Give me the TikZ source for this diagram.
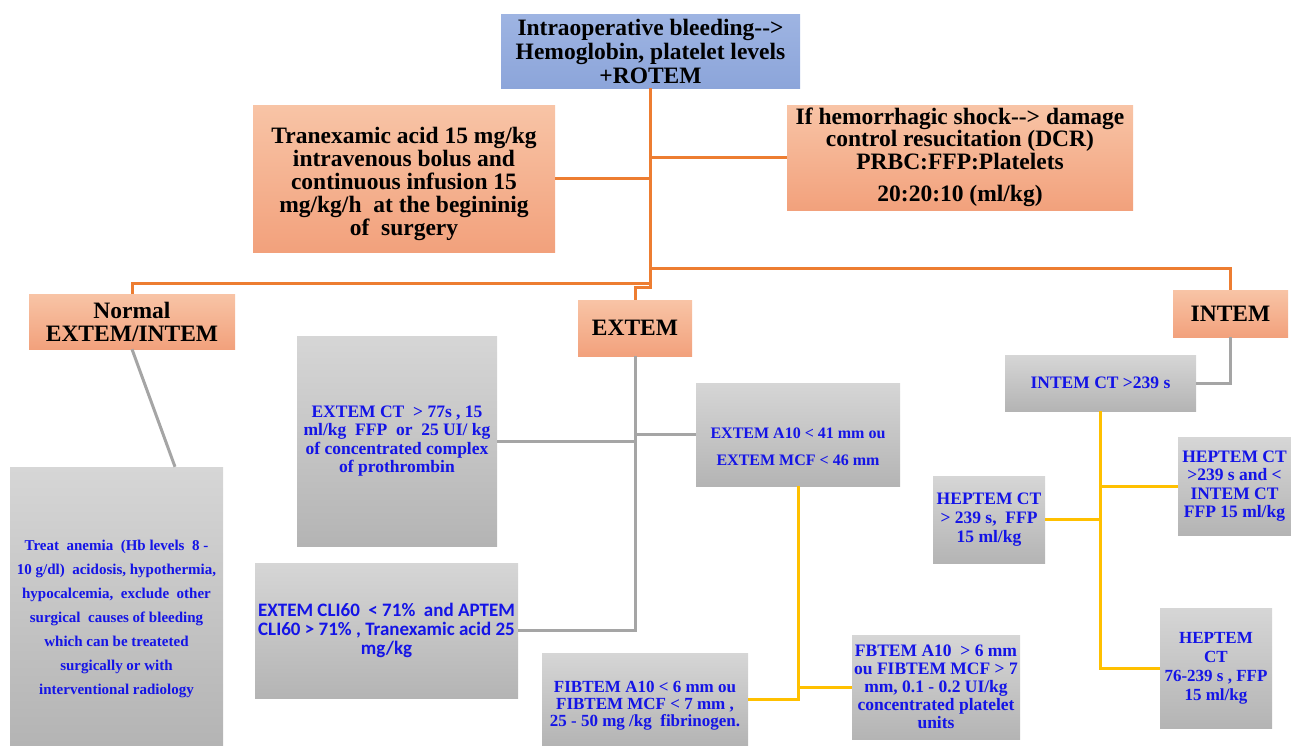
\documentclass[tikz,border=0pt]{standalone}
\usepackage{fontspec}
\setmainfont{Liberation Serif}
\newfontfamily\calfont{Carlito}

\definecolor{lineorange}{HTML}{ED7D31}
\definecolor{linegrey}{HTML}{A5A5A5}
\definecolor{lineyellow}{HTML}{FFC000}
\definecolor{txtblue}{HTML}{1414E6}

\newcommand{\setfs}[2]{\fontsize{#1}{#2}\selectfont}

\tikzset{
  box/.style={inner sep=0pt, align=center, font=\bfseries},
  bluebox/.style={box, top color={rgb,255:red,158;green,180;blue,226}, bottom color={rgb,255:red,140;green,165;blue,218}},
  salmonbox/.style={box, top color={rgb,255:red,248;green,196;blue,166}, bottom color={rgb,255:red,242;green,161;blue,124}},
  greybox/.style={box, text=txtblue, top color={rgb,255:red,214;green,214;blue,214}, bottom color={rgb,255:red,180;green,180;blue,180}},
  oline/.style={draw=lineorange, line width=3pt},
  gline/.style={draw=linegrey, line width=3pt},
  yline/.style={draw=lineyellow, line width=3pt}
}

\begin{document}
\begin{tikzpicture}[x=1pt,y=-1pt,line join=miter]

\useasboundingbox (0,0) rectangle (1291,745);

%orange level
\node[bluebox, minimum width=299, minimum height=74, font=\bfseries\setfs{23.5}{24}] (top) at (650.5,51)
  {Intraoperative bleeding-{}-{}>\\Hemoglobin, platelet levels\\+ROTEM};
\node[salmonbox, minimum width=302, minimum height=147, font=\bfseries\setfs{23.5}{23}] (tranex) at (404,178.5)
  {\mbox{}\\[5pt]Tranexamic acid 15 mg/kg\\intravenous bolus and\\continuous infusion 15\\mg/kg/h\ \ at the begininig\\of\ \ surgery};
\node[salmonbox, minimum width=346, minimum height=105, font=\bfseries\setfs{23.5}{22.5}] (shock) at (960,157.5)
  {If hemorrhagic shock-{}-{}> damage\\control resucitation (DCR)\\PRBC:FFP:Platelets\\[10pt]20:20:10 (ml/kg)};
\node[salmonbox, minimum width=206, minimum height=55, font=\bfseries\setfs{23.5}{23}] (normal) at (132,321.5)
  {Normal\\EXTEM/INTEM};
\node[salmonbox, minimum width=114, minimum height=56, font=\bfseries\setfs{23.5}{23}] (extem) at (635,328) {EXTEM};
\node[salmonbox, minimum width=115, minimum height=47, font=\bfseries\setfs{23.5}{23}] (intem) at (1230.5,313.5) {INTEM};

%grey boxes
\node[greybox, minimum width=213, minimum height=278, font=\bfseries\setfs{15}{24}] (treat) at (116.5,606)
  {\mbox{}\\[12pt]Treat\ \ anemia\ \ (Hb levels\ \ 8 -\\10 g/dl)\ \ acidosis, hypothermia,\\hypocalcemia,\ \ exclude\ \ other\\surgical\ \ causes of bleeding\\which can be treateted\\surgically or with\\interventional radiology};
\node[greybox, minimum width=200, minimum height=210, font=\bfseries\setfs{17.5}{18.5}] (extct) at (397,441)
  {EXTEM CT\ \ > 77s , 15\\ml/kg\ \ FFP\ \ or\ \ 25 UI/ kg\\of concentrated complex\\of prothrombin};
\node[greybox, minimum width=263, minimum height=135, font=\calfont\bfseries\setfs{19}{19}] (cli) at (386.5,630.5)
  {EXTEM CLI60\ \ < 71\%\ \ and APTEM\\CLI60 > 71\% , Tranexamic acid 25\\mg/kg};
\node[greybox, minimum width=204, minimum height=103, font=\bfseries\setfs{16}{27}] (a10) at (798,434.5)
  {\mbox{}\\[9pt]EXTEM A10 < 41 mm ou\\EXTEM MCF < 46 mm};
\node[greybox, minimum width=206, minimum height=92, font=\bfseries\setfs{17}{17}] (fibtem) at (645,699)
  {\mbox{}\\[7pt]FIBTEM A10 < 6 mm ou\\FIBTEM MCF < 7 mm ,\\25 - 50 mg /kg\ \ fibrinogen.};
\node[greybox, minimum width=168, minimum height=104, font=\bfseries\setfs{17.5}{18}] (fbtem) at (936,687)
  {FBTEM A10\ \ > 6 mm\\ou FIBTEM MCF > 7\\mm, 0.1 - 0.2 UI/kg\\concentrated platelet\\units};
\node[greybox, minimum width=191, minimum height=56, font=\bfseries\setfs{17.5}{18}] (intct) at (1100.5,383) {INTEM CT >239 s};
\node[greybox, minimum width=112, minimum height=87, font=\bfseries\setfs{17.5}{19}] (hepa) at (989,519.5)
  {HEPTEM CT\\> 239 s,\ \ FFP\\15 ml/kg};
\node[greybox, minimum width=113, minimum height=98, font=\bfseries\setfs{17.5}{18.3}] (hepb) at (1234.5,486)
  {HEPTEM CT\\>239 s and <\\INTEM CT\\FFP 15 ml/kg};
\node[greybox, minimum width=112, minimum height=120, font=\bfseries\setfs{17}{19}] (hepc) at (1216,668)
  {HEPTEM\\CT\\76-239 s , FFP\\15 ml/kg};

%orange connectors
\draw[oline] (top.south) -- ++(0,199) -| (extem.north);
\draw[oline] (tranex.east) -- (tranex.east -| top.south);
\draw[oline] (shock.west) -- (shock.west -| top.south);
\draw[oline] (top.south |- 0,268) -| (intem.north);
\draw[oline] (top.south |- 0,283) -| (normal.north);

%grey connectors
\draw[gline] (normal.south) -- ([xshift=58.5]treat.north);
\draw[gline] (extem.south) |- (cli.east);
\draw[gline] (extct.east) -- (extct.east -| extem.south);
\draw[gline] (a10.west) -- (a10.west -| extem.south);
\draw[gline] (intem.south) |- (intct.east);

%yellow connectors
\draw[yline] (a10.south) |- (fibtem.east);
\draw[yline] (fbtem.west) -- (fbtem.west -| a10.south);
\draw[yline] (intct.south) |- (hepc.west);
\draw[yline] (hepa.east) -- (hepa.east -| intct.south);
\draw[yline] (hepb.west) -- (hepb.west -| intct.south);

\end{tikzpicture}
\end{document}
